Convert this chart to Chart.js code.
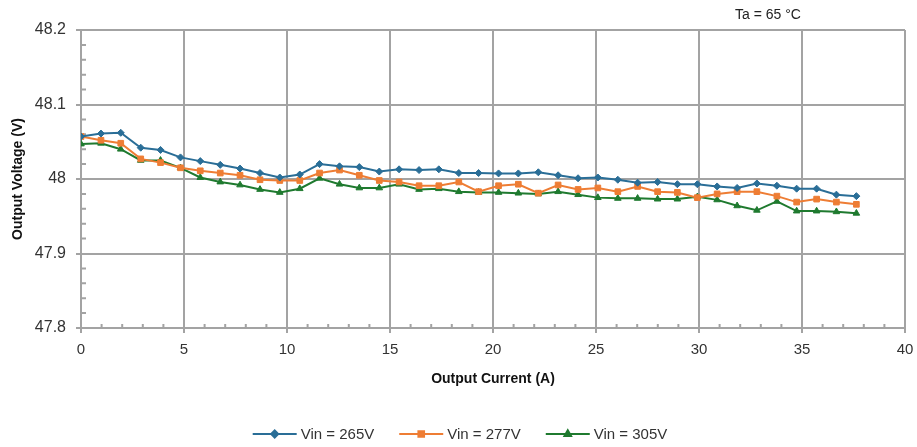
<!DOCTYPE html>
<html>
<head>
<meta charset="utf-8">
<script src="https://cdn.jsdelivr.net/npm/chart.js@4.4.0/dist/chart.umd.min.js"></script>
<style>
  html, body { margin: 0; padding: 0; background: #fff; }
  #wrap { width: 917px; height: 447px; position: relative; }
</style>
</head>
<body>
<div id="wrap"><canvas id="voltageChart"></canvas></div>
<script>
// output current (A)
const outputCurrent = [0, 0.97, 1.93, 2.9, 3.86, 4.83, 5.79, 6.76, 7.72, 8.69,
  9.65, 10.62, 11.58, 12.55, 13.51, 14.48, 15.44, 16.41, 17.37, 18.34,
  19.3, 20.27, 21.23, 22.2, 23.16, 24.13, 25.09, 26.06, 27.02, 27.99,
  28.95, 29.92, 30.88, 31.85, 32.81, 33.78, 34.74, 35.71, 36.67, 37.64];

const vin265 = [48.057, 48.061, 48.062, 48.042, 48.039, 48.029, 48.024, 48.019, 48.014, 48.008,
  48.002, 48.006, 48.020, 48.017, 48.016, 48.010, 48.013, 48.012, 48.013, 48.008,
  48.008, 48.0075, 48.0075, 48.009, 48.005, 48.001, 48.002, 47.999, 47.995, 47.996,
  47.993, 47.993, 47.990, 47.988, 47.994, 47.991, 47.987, 47.987, 47.979, 47.977];

const vin277 = [48.057, 48.052, 48.048, 48.027, 48.022, 48.015, 48.011, 48.008, 48.005, 47.999,
  47.998, 47.998, 48.008, 48.012, 48.005, 47.998, 47.996, 47.991, 47.991, 47.996,
  47.983, 47.991, 47.993, 47.981, 47.992, 47.986, 47.988, 47.983, 47.990, 47.983,
  47.982, 47.975, 47.980, 47.983, 47.983, 47.977, 47.969, 47.973, 47.969, 47.966];

const vin305 = [48.047, 48.048, 48.040, 48.025, 48.025, 48.015, 48.002, 47.996, 47.992, 47.986,
  47.982, 47.987, 48.001, 47.993, 47.988, 47.988, 47.993, 47.986, 47.987, 47.983,
  47.982, 47.982, 47.981, 47.980, 47.983, 47.979, 47.975, 47.974, 47.974, 47.973,
  47.973, 47.976, 47.972, 47.964, 47.958, 47.970, 47.957, 47.957, 47.956, 47.954];

const seriesNames = ['Vin = 265V', 'Vin = 277V', 'Vin = 305V'];
const xTickValues = [0, 5, 10, 15, 20, 25, 30, 35, 40];
const yTickValues = [47.8, 47.9, 48, 48.1, 48.2];
const noteText = 'Ta = 65 °C';

const gridColor = '#a3a3a3';
const textColor = '#333333';

function toPoints(ys) {
  return outputCurrent.map((x, i) => ({ x: x, y: ys[i] }));
}

// small inside ticks (every 1 A and every 0.02 V), drawn from the scales
const minorTicks = {
  id: 'minorTicks',
  beforeDatasetsDraw(chart) {
    const ctx = chart.ctx;
    const xs = chart.scales.x, ys = chart.scales.y;
    const axisY = ys.getPixelForValue(47.8);
    const axisX = xs.getPixelForValue(0);
    ctx.save();
    ctx.strokeStyle = gridColor;
    ctx.lineWidth = 2;
    ctx.beginPath();
    for (let i = 1; i < 40; i++) {
      if (i % 5 === 0) continue;
      const px = xs.getPixelForValue(i);
      ctx.moveTo(px, axisY);
      ctx.lineTo(px, axisY - 4);
    }
    for (let j = 1; j < 20; j++) {
      if (j % 5 === 0) continue;
      const py = ys.getPixelForValue(47.8 + j * 0.02);
      ctx.moveTo(axisX, py);
      ctx.lineTo(axisX + 5, py);
    }
    ctx.stroke();
    ctx.restore();
  }
};

// legend with line + marker, and the temperature note
const lineLegend = {
  id: 'lineLegend',
  afterDraw(chart) {
    const ctx = chart.ctx;
    ctx.save();
    ctx.font = '15px "Liberation Sans", Arial, sans-serif';
    ctx.textBaseline = 'middle';
    const lineLen = 44, gap = 4, spacing = 25;
    const widths = chart.data.datasets.map(ds => ctx.measureText(ds.label).width);
    let total = 0;
    widths.forEach((w, i) => { total += lineLen + gap + w + (i < widths.length - 1 ? spacing : 0); });
    let x = 460 - total / 2;
    const y = 434;
    chart.data.datasets.forEach((ds, i) => {
      ctx.strokeStyle = ds.borderColor;
      ctx.lineWidth = 2;
      ctx.beginPath();
      ctx.moveTo(x, y);
      ctx.lineTo(x + lineLen, y);
      ctx.stroke();
      ctx.fillStyle = ds.borderColor;
      Chart.helpers.drawPoint(ctx, { pointStyle: ds.pointStyle, radius: ds.pointRadius, borderWidth: 1 }, x + lineLen / 2, y);
      ctx.fillStyle = textColor;
      ctx.textAlign = 'left';
      ctx.fillText(ds.label, x + lineLen + gap, y + 1);
      x += lineLen + gap + widths[i] + spacing;
    });
    ctx.font = '14px "Liberation Sans", Arial, sans-serif';
    ctx.textAlign = 'center';
    ctx.fillStyle = '#222';
    ctx.fillText(noteText, 768, 15);
    ctx.restore();
  }
};

const colors = ['#2a6e97', '#ee7d34', '#1f7a2f'];
const styles = ['rectRot', 'rect', 'triangle'];
const radii = [3.5, 4, 3.8];

new Chart(document.getElementById('voltageChart'), {
  type: 'line',
  data: {
    datasets: [vin265, vin277, vin305].map((vals, i) => ({
      label: seriesNames[i],
      data: toPoints(vals),
      borderColor: colors[i],
      backgroundColor: colors[i],
      pointBackgroundColor: colors[i],
      pointBorderColor: colors[i],
      pointStyle: styles[i],
      pointRadius: radii[i],
      pointBorderWidth: 1,
      borderWidth: 2,
      tension: 0
    }))
  },
  options: {
    responsive: true,
    maintainAspectRatio: false,
    devicePixelRatio: 1,
    animation: false,
    layout: { padding: { left: 0, right: 12, top: 30, bottom: 57 } },
    plugins: {
      legend: { display: false },
      tooltip: { enabled: false }
    },
    scales: {
      x: {
        type: 'linear',
        min: 0,
        max: 40,
        afterBuildTicks: scale => { scale.ticks = xTickValues.map(v => ({ value: v })); },
        afterFit: scale => {
          scale.height = 62;
          scale.paddingRight = 0;
          scale.paddingLeft = 0;
        },
        ticks: {
          color: textColor,
          font: { family: '"Liberation Sans", Arial, sans-serif', size: 15 },
          padding: 8,
          maxRotation: 0,
          callback: v => String(v)
        },
        grid: { color: gridColor, lineWidth: 2, tickLength: 5, tickColor: gridColor },
        border: { color: gridColor, width: 2 },
        title: {
          display: true,
          text: 'Output Current (A)',
          color: '#111',
          font: { family: '"Liberation Sans", Arial, sans-serif', size: 14, weight: 'bold' },
          padding: { top: 0, bottom: 2 }
        }
      },
      y: {
        min: 47.8,
        max: 48.2,
        afterBuildTicks: scale => { scale.ticks = yTickValues.map(v => ({ value: v })); },
        afterFit: scale => { scale.width = 81; },
        ticks: {
          color: textColor,
          font: { family: '"Liberation Sans", Arial, sans-serif', size: 16 },
          padding: 10,
          callback: v => String(v)
        },
        grid: { color: gridColor, lineWidth: 2, tickLength: 5, tickColor: gridColor },
        border: { color: gridColor, width: 2 },
        title: {
          display: true,
          text: 'Output Voltage (V)',
          color: '#111',
          font: { family: '"Liberation Sans", Arial, sans-serif', size: 14, weight: 'bold' },
          padding: { top: 10, bottom: 0 }
        }
      }
    }
  },
  plugins: [minorTicks, lineLegend]
});
</script>
</body>
</html>
